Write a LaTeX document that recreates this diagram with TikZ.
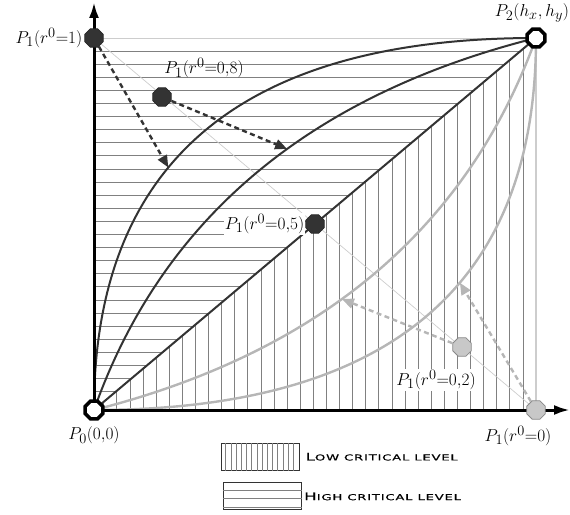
\documentclass[tikz,border=0pt]{standalone}
\usepackage{fontspec}
\newfontfamily\legendfont[FakeStretch=1.6,LetterSpace=10,FakeBold=0.6]{DejaVu Sans}
\usepackage{xcolor}
\definecolor{curveDark}{RGB}{51, 51, 51}
\definecolor{curveLight}{RGB}{182, 182, 182}
\definecolor{hatchGray}{RGB}{128, 128, 128}
\definecolor{guideGray}{RGB}{205, 205, 205}
\usepackage{tikz}
\usetikzlibrary{
    shapes.geometric,
    arrows.meta,
    positioning,
    calc
}
% fake small caps for the legend
\newcommand{\legsc}[2]{{\legendfont\fontsize{10.5}{12}\selectfont #1\fontsize{8.2}{12}\selectfont #2}}

\begin{document}
\begin{tikzpicture}[
    x=1pt, y=1pt,
    axisLine/.style={line width=3pt, draw=black, -{Latex[length=16pt, width=10pt]}},
    hatch/.style={draw=hatchGray, line width=0.8pt},
    guide/.style={draw=guideGray, line width=0.7pt},
    darkCurve/.style={draw=curveDark, line width=2pt},
    lightCurve/.style={draw=curveLight, line width=2.4pt},
    endPoint/.style={
        regular polygon, regular polygon sides=8,
        draw=black, line width=3.5pt, fill=white,
        minimum size=19pt, inner sep=0pt
    },
    ctrlDark/.style={
        regular polygon, regular polygon sides=8,
        draw=curveDark!70!black, line width=0.6pt, fill=curveDark,
        minimum size=20pt, inner sep=0pt
    },
    ctrlLight/.style={
        regular polygon, regular polygon sides=8,
        draw=curveLight!75!black, line width=0.8pt, fill=curveLight!75,
        minimum size=20pt, inner sep=0pt
    },
    moveArrow/.style={
        line width=2.4pt, dash pattern=on 5pt off 3.5pt,
        -{Triangle[length=12pt, width=10pt]}
    },
    ptLabel/.style={font=\fontsize{19}{22}\selectfont, inner sep=1pt},
    legendBox/.style={draw=curveDark, line width=0.9pt, minimum height=27pt, inner sep=0pt},
    legendText/.style={anchor=west, inner sep=0pt}
]
    \useasboundingbox (-94,-104) rectangle (476,410);

    % Corner and control points
    \coordinate (o) at (0,0);
    \coordinate (h) at (442,372);
    \coordinate (cOne) at (0,372);
    \coordinate (cEight) at (68,313);
    \coordinate (cHalf) at (221,186);
    \coordinate (cTwo) at (368,63);
    \coordinate (cZero) at (442,0);
    % control points of the two inner curves
    \coordinate (qEight) at (101,286);
    \coordinate (qTwo) at (339,86);

    % High critical level (above the diagonal)
    \foreach \k in {1,...,28} {
        \pgfmathsetmacro{\yy}{372-13.1*\k}
        \draw[hatch] (0,\yy) -- ({\yy*1.1882},\yy);
    }
    % Low critical level (below the diagonal)
    \foreach \k in {1,...,33} {
        \pgfmathsetmacro{\xx}{442-13.1*\k}
        \draw[hatch] (\xx,0) -- (\xx,{\xx*0.8416});
    }

    % Frame and guide line
    \draw[guide] (cOne) -- (h);
    \draw[guide, line width=1.8pt] (h) -- (cZero);
    \draw[guide] (cOne) -- (cZero);

    % Curves P0 -> P2
    \draw[darkCurve] (o) .. controls ($(o)!2/3!(cOne)$) and ($(h)!2/3!(cOne)$) .. (h)
        coordinate[pos=0.41] (tipOne);
    \draw[darkCurve] (o) .. controls ($(o)!2/3!(qEight)$) and ($(h)!2/3!(qEight)$) .. (h)
        coordinate[pos=0.57] (tipEight);
    \draw[darkCurve] (o) -- (h);
    \draw[lightCurve] (o) .. controls ($(o)!2/3!(qTwo)$) and ($(h)!2/3!(qTwo)$) .. (h)
        coordinate[pos=0.43] (tipTwo);
    \draw[lightCurve] (o) .. controls ($(o)!2/3!(cZero)$) and ($(h)!2/3!(cZero)$) .. (h)
        coordinate[pos=0.585] (tipZero);

    % Axes
    \coordinate (yEnd) at (0,408);
    \coordinate (xEnd) at (476,0);
    \draw[axisLine] (o) -- (yEnd);
    \draw[axisLine] (o) -- (xEnd);

    % Points
    \node[endPoint] (P0) at (o) {};
    \node[endPoint] (P2) at (h) {};
    \node[ctrlDark] (p1one) at (cOne) {};
    \node[ctrlDark] (p1eight) at (cEight) {};
    \node[ctrlDark] (p1half) at (cHalf) {};
    \node[ctrlLight] (p1two) at (cTwo) {};
    \node[ctrlLight] (p1zero) at (cZero) {};

    % Moves of the control point
    \draw[moveArrow, curveDark] (p1one) -- (tipOne);
    \draw[moveArrow, curveDark] (p1eight) -- (tipEight);
    \draw[moveArrow, curveLight] (p1two) -- (tipTwo);
    \draw[moveArrow, curveLight] (p1zero) -- (tipZero);

    % Labels
    \node[ptLabel, left=1pt of p1one] (lOne) {$P_1(r^0{=}1)$};
    \node[ptLabel, above=8pt of p1eight, xshift=42pt] (lEight) {$P_1(r^0{=}0{,}8)$};
    \node[ptLabel, left=0pt of p1half, fill=white] (lHalf) {$P_1(r^0{=}0{,}5)$};
    \node[ptLabel, below=12pt of p1two, xshift=-26pt, fill=white] (lTwo) {$P_1(r^0{=}0{,}2)$};
    \node[ptLabel, below=5pt of p1zero, xshift=-18pt] (lZero) {$P_1(r^0{=}0)$};
    \node[ptLabel, below=5pt of P0] (lP0) {$P_0(0{,}0)$};
    \node[ptLabel, above=4pt of P2, xshift=-4pt] (lP2) {$P_2(h_x,h_y)$};

    % Legend
    \node[legendBox, minimum width=78pt] (lowBox) at (166,-46.7) {};
    \foreach \i in {1,...,14}
        \draw[hatch, line width=0.6pt] ($(lowBox.south west)+(5.2*\i,0)$) -- ($(lowBox.north west)+(5.2*\i,0)$);
    \node[legendBox, minimum width=78pt] (highBox) at (168.5,-86.4) {};
    \foreach \i in {0,1,2}
        \draw[hatch, line width=0.6pt] ($(highBox.south west)+(0,3.4+8.3*\i)$) -- ($(highBox.south east)+(0,3.4+8.3*\i)$);
    \node[legendText, right=6pt of lowBox] (lowText) {\legsc{L}{OW CRITICAL LEVEL}};
    \node[legendText, right=2pt of highBox] (highText) {\legsc{H}{IGH CRITICAL LEVEL}};

\end{tikzpicture}
\end{document}
